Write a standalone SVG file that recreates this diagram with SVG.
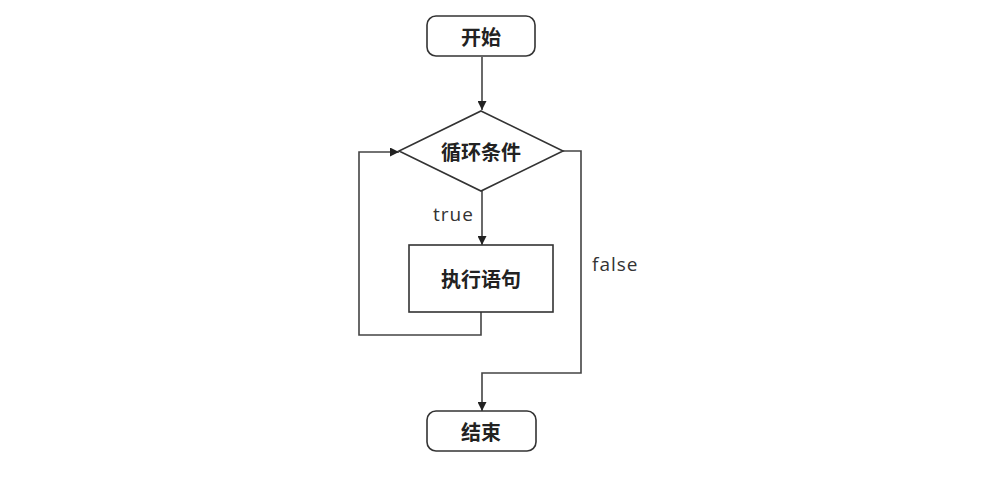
<svg xmlns="http://www.w3.org/2000/svg" width="998" height="491" viewBox="0 0 998 491">
<style>
.shape{fill:#fff;stroke:#333;stroke-width:1.6}
.conn{fill:none;stroke:#444;stroke-width:1.6}
.cn{font-family:"Noto Sans CJK SC",sans-serif;font-size:20px;font-weight:bold;fill:#222;text-anchor:middle;dominant-baseline:central}
.lbl{font-family:"Open Sans","DejaVu Sans",sans-serif;font-size:19px;letter-spacing:1px;fill:#333}
</style>
<defs>
<marker id="arr" viewBox="0 0 10 10" refX="10" refY="5" markerWidth="9" markerHeight="9" markerUnits="userSpaceOnUse" orient="auto">
<path d="M0,0 L10,5 L0,10 z" fill="#222"/>
</marker>
</defs>
<rect width="998" height="491" fill="#fff"/>
<g id="connectors">
<path class="conn" d="M482,57 V110" marker-end="url(#arr)"/>
<path class="conn" d="M482,191 V245" marker-end="url(#arr)"/>
<path class="conn" d="M481,312 V335 H359 V152 H399" marker-end="url(#arr)"/>
<path class="conn" d="M563,151 H581 V373 H482 V411" marker-end="url(#arr)"/>
<text class="lbl" x="433" y="221">true</text>
<text class="lbl" x="592" y="271">false</text>
</g>
<g id="start">
<rect class="shape" x="427" y="16" width="108" height="40" rx="9"/>
<text class="cn" x="481" y="36">开始</text>
</g>
<g id="cond">
<polygon class="shape" points="481,111 563,151 481,191 399,151"/>
<text class="cn" x="481" y="151">循环条件</text>
</g>
<g id="body">
<rect class="shape" x="409" y="245" width="144" height="67"/>
<text class="cn" x="481" y="278">执行语句</text>
</g>
<g id="end">
<rect class="shape" x="427" y="411" width="109" height="40" rx="9"/>
<text class="cn" x="481" y="431">结束</text>
</g>
</svg>
